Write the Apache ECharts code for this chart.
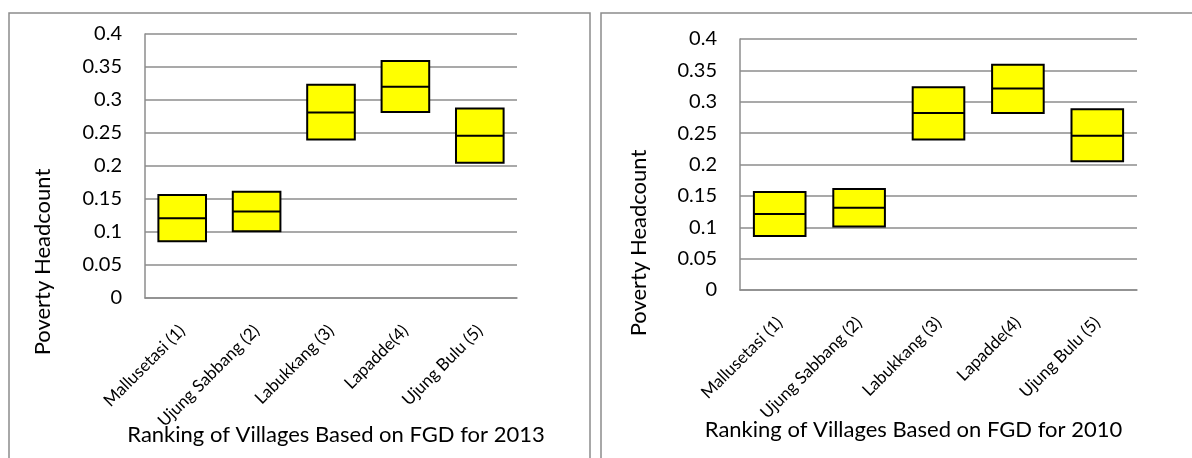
<!DOCTYPE html>
<html>
<head>
<meta charset="utf-8">
<script src="https://cdn.jsdelivr.net/npm/echarts@6/dist/echarts.min.js"></script>
<style>
  html, body { margin: 0; padding: 0; background: #fff; }
  #chart { width: 1192px; height: 458px; }
</style>
</head>
<body>
<div id="chart"></div>
<script>
// villages, ranked by FGD
const villages = ['Mallusetasi (1)', 'Ujung Sabbang (2)', 'Labukkang (3)', 'Lapadde(4)', 'Ujung Bulu (5)'];

// poverty headcount ranges, 2013
const low2013 = [0.086, 0.101, 0.240, 0.282, 0.205];
const mid2013 = [0.121, 0.131, 0.281, 0.320, 0.246];
const high2013 = [0.156, 0.161, 0.323, 0.359, 0.287];

// poverty headcount ranges, 2010
const low2010 = [0.086, 0.101, 0.240, 0.282, 0.205];
const mid2010 = [0.121, 0.131, 0.282, 0.321, 0.246];
const high2010 = [0.156, 0.161, 0.323, 0.359, 0.288];

const yTicks = { min: 0, max: 0.4, interval: 0.05 };

const font = 'Lato';
const grey = '#8c8c8c';

function boxes(low, mid, high) {
  // boxplot item: [min, Q1, median, Q3, max]; no whiskers in the source
  return low.map((l, i) => [l, l, mid[i], high[i], high[i]]);
}

function xAxis(idx, title, gap, pad) {
  return {
    type: 'category',
    gridIndex: idx,
    data: villages,
    axisLine: { lineStyle: { color: grey, width: 1.5 } },
    axisTick: { show: false },
    axisLabel: { rotate: 45, interval: 0, margin: 30, color: '#000', fontFamily: font, fontSize: 17 },
    name: title,
    nameLocation: 'middle',
    nameGap: gap,
    nameMoveOverlap: false,
    nameTextStyle: { color: '#000', fontFamily: font, fontSize: 22, padding: pad }
  };
}

function yAxis(idx) {
  return {
    type: 'value',
    gridIndex: idx,
    min: yTicks.min,
    max: yTicks.max,
    interval: yTicks.interval,
    axisLine: { show: true, lineStyle: { color: grey, width: 1.5 } },
    axisTick: { show: false },
    splitLine: { lineStyle: { color: grey, width: 1.5 } },
    axisLabel: {
      margin: 23, color: '#000', fontFamily: font, fontSize: 20,
      formatter: v => String(+v.toFixed(2))
    }
  };
}

const chart = echarts.init(document.getElementById('chart'));
chart.setOption({
  animation: false,
  grid: [
    { left: 145, right: 675, top: 34, bottom: 160, outerBoundsMode: 'none' },
    { left: 740, right: 55, top: 39, bottom: 168, outerBoundsMode: 'none' }
  ],
  xAxis: [
    xAxis(0, 'Ranking of Villages Based on FGD for 2013', 126, [0, 0, 0, 10]),
    xAxis(1, 'Ranking of Villages Based on FGD for 2010', 129, [0, 50, 0, 0])
  ],
  yAxis: [yAxis(0), yAxis(1)],
  series: [
    {
      type: 'boxplot',
      xAxisIndex: 0, yAxisIndex: 0,
      boxWidth: ['64%', '64%'],
      itemStyle: { color: '#ffff00', borderColor: '#000', borderWidth: 2 },
      data: boxes(low2013, mid2013, high2013)
    },
    {
      type: 'boxplot',
      xAxisIndex: 1, yAxisIndex: 1,
      boxWidth: ['65%', '65%'],
      itemStyle: { color: '#ffff00', borderColor: '#000', borderWidth: 2 },
      data: boxes(low2010, mid2010, high2010)
    }
  ],
  graphic: [
    { type: 'rect', shape: { x: 9, y: 13, width: 581, height: 470 }, style: { fill: 'none', stroke: grey, lineWidth: 1.5 } },
    { type: 'rect', shape: { x: 601, y: 13, width: 620, height: 470 }, style: { fill: 'none', stroke: grey, lineWidth: 1.5 } },
    {
      type: 'text', x: 43, y: 262, rotation: Math.PI / 2,
      style: { text: 'Poverty Headcount', fill: '#000', font: '22px Lato', textAlign: 'center', textVerticalAlign: 'middle' }
    },
    {
      type: 'text', x: 639, y: 243, rotation: Math.PI / 2,
      style: { text: 'Poverty Headcount', fill: '#000', font: '22px Lato', textAlign: 'center', textVerticalAlign: 'middle' }
    }
  ]
});
</script>
</body>
</html>
